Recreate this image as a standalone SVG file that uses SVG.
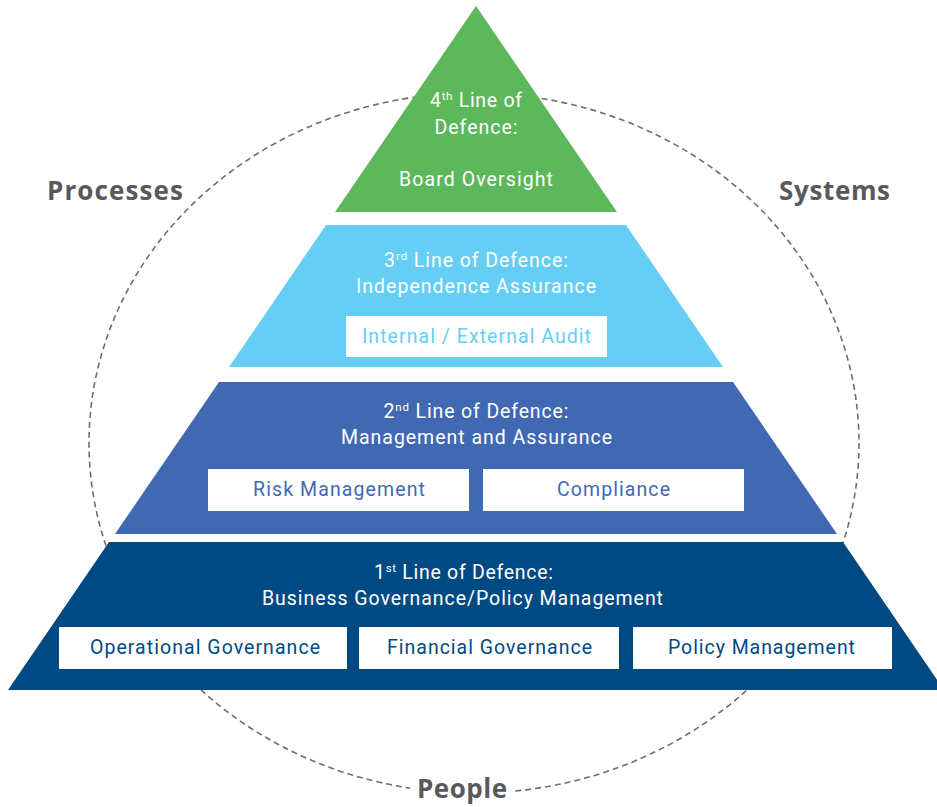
<svg xmlns="http://www.w3.org/2000/svg" width="937" height="807" viewBox="0 0 937 807">
<defs>
<style>
.t{font-family:Roboto,"Liberation Sans",sans-serif;font-size:19.5px;fill:#ffffff;text-anchor:middle}
.bt{font-family:Roboto,"Liberation Sans",sans-serif;font-size:19.5px;text-anchor:middle}
.sup{font-size:11.5px}
.lbl{font-family:"Open Sans","Liberation Sans",sans-serif;font-weight:700;font-size:26px;fill:#58595b;text-anchor:middle}
.box{fill:#ffffff}
</style>
</defs>
<rect width="937" height="807" fill="#ffffff"/>
<g id="connectors">
<ellipse cx="474" cy="443" rx="385" ry="350" fill="none" stroke="#6d6e71" stroke-width="1.6" stroke-dasharray="6 4"/>
</g>
<g id="tier4">
<polygon points="476,6 617,212 335,212" fill="#5cb85a"/>
<text class="t" x="476" y="107" textLength="92" lengthAdjust="spacing">4<tspan class="sup" dy="-7">th</tspan><tspan dy="7"> Line of</tspan></text>
<text class="t" x="476" y="134" textLength="83" lengthAdjust="spacing">Defence:</text>
<text class="t" x="476" y="186" textLength="154" lengthAdjust="spacing">Board Oversight</text>
</g>
<g id="tier3">
<polygon points="326,225 626,225 723,367 229,367" fill="#66cef5"/>
<text class="t" x="476" y="267" textLength="184" lengthAdjust="spacing">3<tspan class="sup" dy="-7">rd</tspan><tspan dy="7"> Line of Defence:</tspan></text>
<text class="t" x="476" y="293" textLength="240" lengthAdjust="spacing">Independence Assurance</text>
<g id="audit">
<rect class="box" x="346" y="316" width="261" height="41"/>
<text class="bt" x="476.5" y="343" fill="#66cef5" textLength="229" lengthAdjust="spacing">Internal / External Audit</text>
</g>
</g>
<g id="tier2">
<polygon points="219,382 733,382 837,534 115,534" fill="#4169b3"/>
<text class="t" x="476" y="418" textLength="185" lengthAdjust="spacing">2<tspan class="sup" dy="-7">nd</tspan><tspan dy="7"> Line of Defence:</tspan></text>
<text class="t" x="476.5" y="444" textLength="271" lengthAdjust="spacing">Management and Assurance</text>
<g id="risk">
<rect class="box" x="208" y="469" width="261" height="42"/>
<text class="bt" x="339" y="496" fill="#4169b3" textLength="172" lengthAdjust="spacing">Risk Management</text>
</g>
<g id="compliance">
<rect class="box" x="483" y="469" width="261" height="42"/>
<text class="bt" x="613.5" y="496" fill="#4169b3" textLength="113" lengthAdjust="spacing">Compliance</text>
</g>
</g>
<g id="tier1">
<polygon points="109,542 843,542 944,690 8,690" fill="#004a84"/>
<text class="t" x="463.5" y="579" textLength="179" lengthAdjust="spacing">1<tspan class="sup" dy="-7">st</tspan><tspan dy="7"> Line of Defence:</tspan></text>
<text class="t" x="462.5" y="605" textLength="401" lengthAdjust="spacing">Business Governance/Policy Management</text>
<g id="operational">
<rect class="box" x="59" y="627" width="288" height="42"/>
<text class="bt" x="205" y="654" fill="#004a84" textLength="230" lengthAdjust="spacing">Operational Governance</text>
</g>
<g id="financial">
<rect class="box" x="359" y="627" width="260" height="42"/>
<text class="bt" x="489.5" y="654" fill="#004a84" textLength="205" lengthAdjust="spacing">Financial Governance</text>
</g>
<g id="policy">
<rect class="box" x="633" y="627" width="259" height="42"/>
<text class="bt" x="761.5" y="654" fill="#004a84" textLength="187" lengthAdjust="spacing">Policy Management</text>
</g>
</g>
<g id="processes">
<text class="lbl" x="115" y="200" textLength="136" lengthAdjust="spacing">Processes</text>
</g>
<g id="systems">
<text class="lbl" x="834.5" y="200" textLength="111" lengthAdjust="spacing">Systems</text>
</g>
<g id="people">
<rect x="410" y="772" width="104" height="35" fill="#ffffff"/>
<text class="lbl" x="462" y="798" textLength="90" lengthAdjust="spacing">People</text>
</g>
</svg>
